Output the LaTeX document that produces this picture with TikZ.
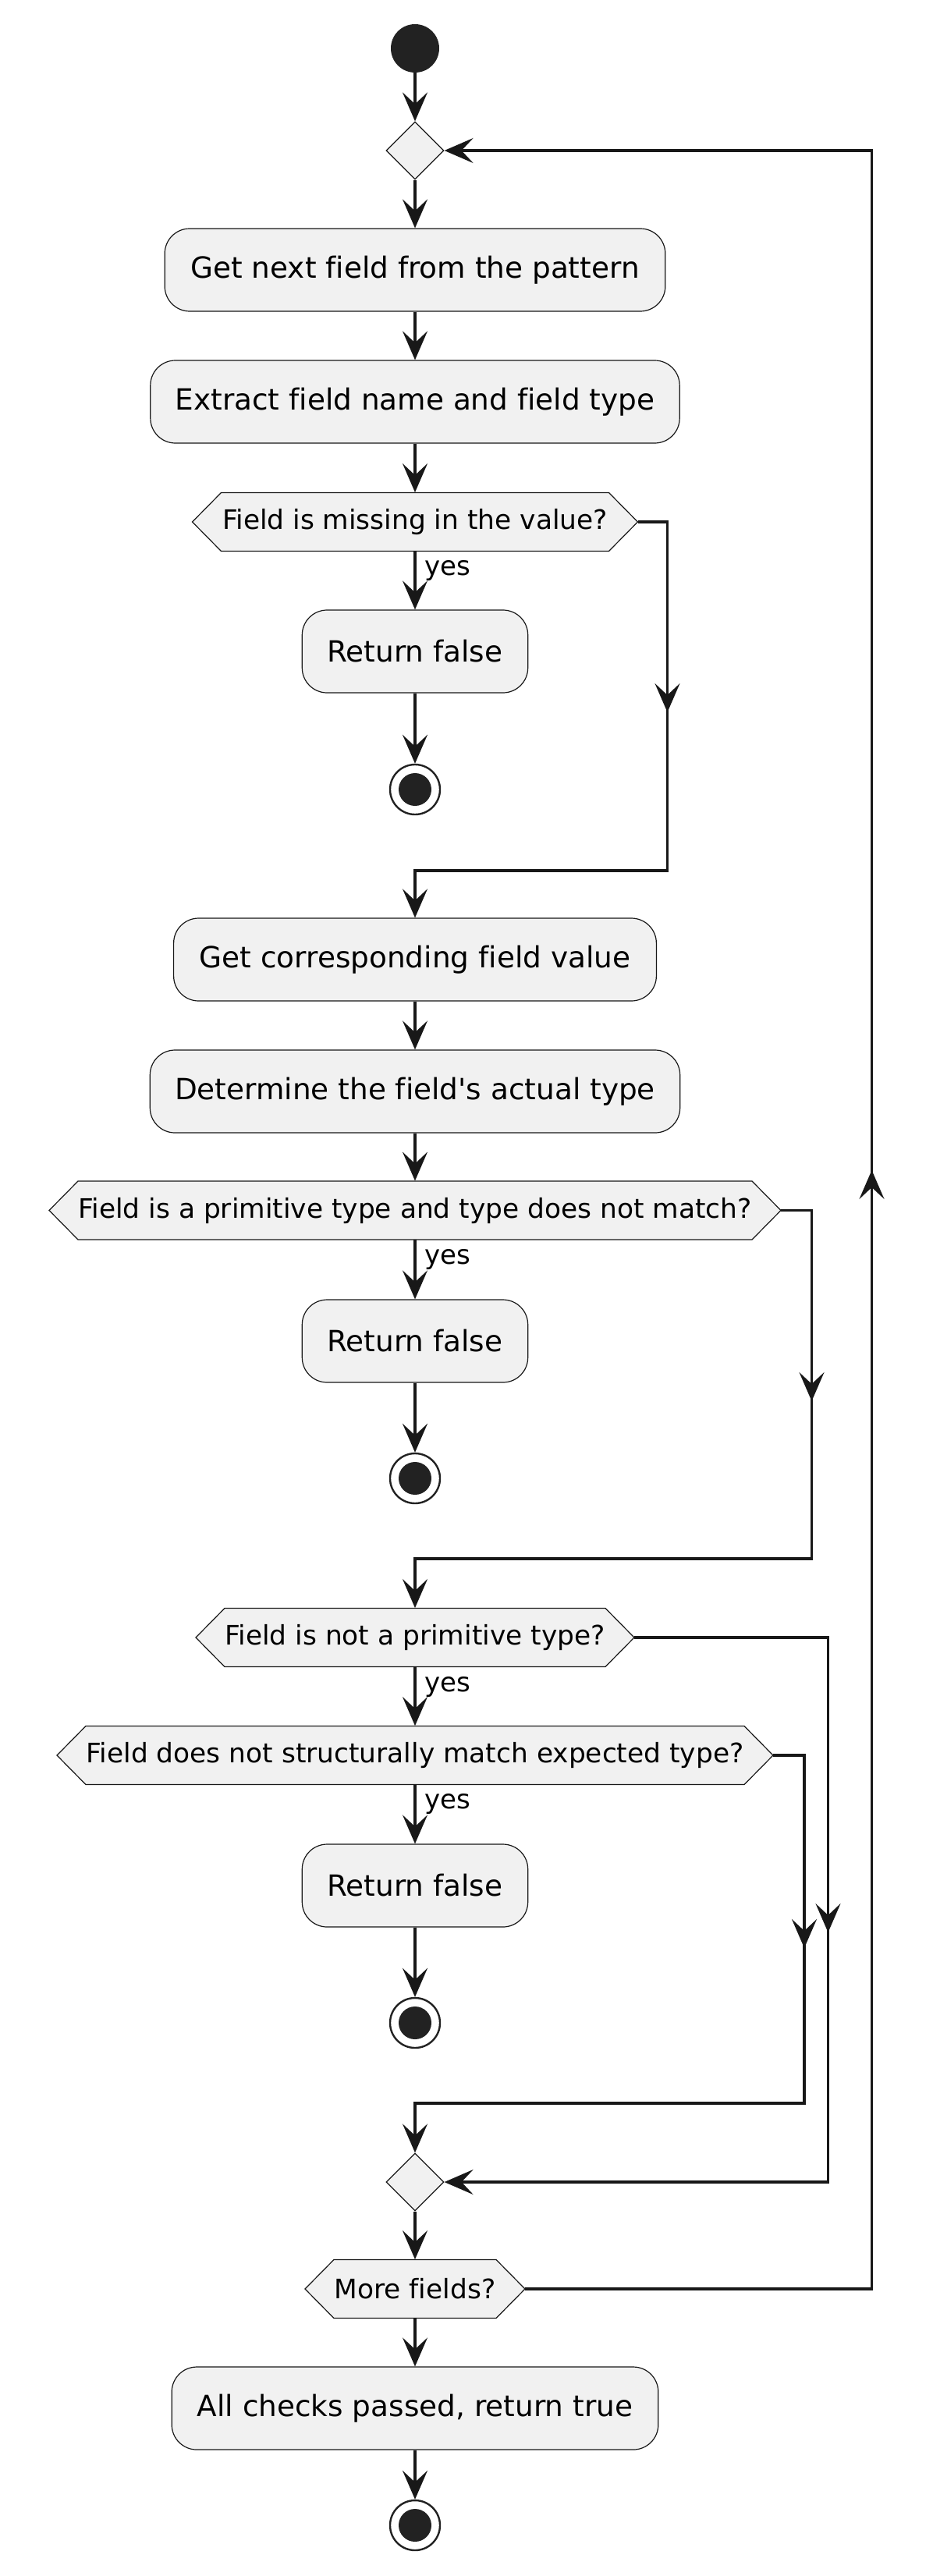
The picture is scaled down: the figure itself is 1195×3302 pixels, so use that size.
\documentclass[tikz,border=0pt]{standalone}
\usepackage{fontspec}
\setmainfont{DejaVu Sans}[Ligatures={NoCommon}]
\usetikzlibrary{arrows.meta,shapes.geometric}
\definecolor{boxfill}{HTML}{F1F1F1}
\definecolor{ink}{HTML}{181818}
\definecolor{dot}{HTML}{222222}
\tikzset{
 >={Stealth[length=18.5pt,width=16pt,inset=7.5pt]},
 conn/.style={draw=ink, line width=1.6pt, ->},
 actbox/.style={rectangle, rounded corners=16pt, draw=ink, fill=boxfill, line width=0.6pt, minimum height=53pt, inner sep=0pt, font=\fontsize{18.7}{22}\selectfont},
 hexlabel/.style={inner sep=0pt, minimum height=37.5pt, font=\fontsize{17.2}{20}\selectfont},
 hexshape/.style={draw=ink, fill=boxfill, line width=0.6pt},
 mergebox/.style={diamond, draw=ink, fill=boxfill, line width=0.6pt, minimum width=37pt, minimum height=37pt, inner sep=0pt, aspect=1},
 startdot/.style={circle, fill=dot, minimum size=31pt, inner sep=0pt},
 stopdot/.style={circle, draw=dot, line width=1.2pt, fill=white, minimum size=32pt, inner sep=0pt, path picture={\fill[dot] (path picture bounding box.center) circle (10.5pt);}},
 yeslbl/.style={anchor=base west, inner sep=0pt, font=\fontsize{17}{20}\selectfont},
}
\newcommand\hexnode[5]{%
 \path[hexshape] (#2-#4,#3) -- (#2-#4+37,#3-37.5) -- (#2+#4-37,#3-37.5) -- (#2+#4,#3) -- (#2+#4-37,#3+37.5) -- (#2-#4+37,#3+37.5) -- cycle;
 \node[hexlabel, minimum width=#4pt] (#1) at (#2,#3) {#5};}
\begin{document}
\begin{tikzpicture}[x=0.5pt,y=-0.5pt]
\useasboundingbox (0,0) rectangle (1195,3302);
% nodes
\node[startdot] (start) at (532,62) {};
\node[mergebox] (m1) at (532,193) {};
\node[actbox, minimum width=320.8pt] (a1) at (532,346) {Get next field from the pattern};
\node[actbox, minimum width=339.2pt] (a2) at (532,515) {Extract field name and field type};
\hexnode{d1}{532}{669}{285.5}{Field is missing in the value?}
\node[actbox, minimum width=144.7pt] (r1) at (532,835) {Return false};
\node[stopdot] (s1) at (532,1012) {};
\node[actbox, minimum width=309.4pt] (a3) at (532,1230) {Get corresponding field value};
\node[actbox, minimum width=339.7pt] (a4) at (532,1399) {Determine the field\textquotesingle s actual type};
\hexnode{d2}{532}{1551.5}{469}{Field is a primitive type and type does not match?}
\node[actbox, minimum width=144.7pt] (r2) at (532,1719) {Return false};
\node[stopdot] (s2) at (532,1895) {};
\hexnode{d3}{532}{2099}{281}{Field is not a primitive type?}
\hexnode{d4}{532}{2250}{459}{Field does not structurally match expected type?}
\node[actbox, minimum width=144.7pt] (r3) at (532,2417) {Return false};
\node[stopdot] (s3) at (532,2593) {};
\node[mergebox] (m2) at (532,2797) {};
\hexnode{d5}{532}{2934}{141}{More fields?}
\node[actbox, minimum width=311.8pt] (a5) at (532,3087) {All checks passed, return true};
\node[stopdot] (s4) at (532,3237) {};
% yes labels
\node[yeslbl] (y1) at (544,737) {yes};
\node[yeslbl] (y2) at (544,1620) {yes};
\node[yeslbl] (y3) at (544,2168) {yes};
\node[yeslbl] (y4) at (544,2318) {yes};
% junction coordinates
\coordinate (j1) at (855.5,1116);
\coordinate (t1) at (855.5,913);
\coordinate (j2) at (1040.5,1998);
\coordinate (t2) at (1040.5,1796);
\coordinate (j3) at (1061.5,2797);
\coordinate (t3) at (1061.5,2477);
\coordinate (j4) at (1031,2696);
\coordinate (t4) at (1031,2497);
\coordinate (j5) at (1117.5,193);
\coordinate (t5) at (1117.5,1500);
% main flow
\draw[conn] (start.south) -- (m1.north);
\draw[conn] (m1.south) -- (a1.north);
\draw[conn] (a1.south) -- (a2.north);
\draw[conn] (a2.south) -- (d1.north);
\draw[conn] (d1.south) -- (r1.north);
\draw[conn] (r1.south) -- (s1.north);
\draw[conn] (a3.south) -- (a4.north);
\draw[conn] (a4.south) -- (d2.north);
\draw[conn] (d2.south) -- (r2.north);
\draw[conn] (r2.south) -- (s2.north);
\draw[conn] (d3.south) -- (d4.north);
\draw[conn] (d4.south) -- (r3.north);
\draw[conn] (r3.south) -- (s3.north);
\draw[conn] (m2.south) -- (d5.north);
\draw[conn] (d5.south) -- (a5.north);
\draw[conn] (a5.south) -- (s4.north);
% branches
\draw[conn] (d1.east) -| (j1) -| (a3.north);
\draw[conn] (d1.east -| t1) -- (t1);
\draw[conn] (d2.east) -| (j2) -| (d3.north);
\draw[conn] (d2.east -| t2) -- (t2);
\draw[conn] (d3.east) -| (j3) -- (m2.east);
\draw[conn] (d3.east -| t3) -- (t3);
\draw[conn] (d4.east) -| (j4) -| (m2.north);
\draw[conn] (d4.east -| t4) -- (t4);
\draw[conn] (d5.east) -| (j5) -- (m1.east);
\draw[conn] (d5.east -| t5) -- (t5);
\end{tikzpicture}
\end{document}
